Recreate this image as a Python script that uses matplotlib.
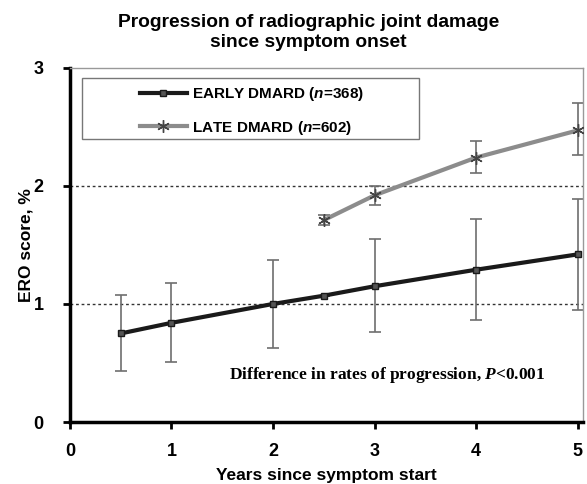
import matplotlib.pyplot as plt
from matplotlib.patches import Rectangle

# data
early_x = [0.5, 1, 2, 2.5, 3, 4, 5]
early_y = [0.75, 0.84, 1.00, 1.07, 1.15, 1.29, 1.42]
early_lo = [0.43, 0.51, 0.63, 1.07, 0.76, 0.86, 0.95]
early_hi = [1.08, 1.18, 1.37, 1.07, 1.55, 1.72, 1.89]

late_x = [2.5, 3, 4, 5]
late_y = [1.71, 1.92, 2.24, 2.47]
late_lo = [1.67, 1.84, 2.11, 2.26]
late_hi = [1.75, 2.00, 2.38, 2.70]

xticks = [0, 1, 2, 3, 4, 5]
yticks = [0, 1, 2, 3]

plt.rcParams['font.family'] = ['Liberation Sans', 'DejaVu Sans']
plt.rcParams['font.weight'] = 'bold'
# italic n in the legend is sans, italic P in the note is serif
plt.rcParams['mathtext.fontset'] = 'custom'
plt.rcParams['mathtext.it'] = 'Liberation Sans:italic:bold'
plt.rcParams['mathtext.sf'] = 'Liberation Serif:italic:bold'
plt.rcParams['mathtext.rm'] = 'Liberation Sans:bold'

fig = plt.figure(figsize=(5.87, 4.84), dpi=100)
ax = fig.add_axes([0.119, 0.128, 0.874, 0.732])

ax.axhline(1, color='#333333', ls=(0, (2, 2)), lw=1, zorder=1)
ax.axhline(2, color='#333333', ls=(0, (2, 2)), lw=1, zorder=1)

e_err = [[y - l for y, l in zip(early_y, early_lo)], [h - y for y, h in zip(early_y, early_hi)]]
l_err = [[y - l for y, l in zip(late_y, late_lo)], [h - y for y, h in zip(late_y, late_hi)]]

ax.errorbar(early_x, early_y, yerr=e_err, fmt='none', ecolor='#6e6e6e', elinewidth=1.2,
            capsize=4, capthick=1.2, zorder=2)
ax.errorbar(late_x, late_y, yerr=l_err, fmt='none', ecolor='#6e6e6e', elinewidth=1.2,
            capsize=4, capthick=1.2, zorder=2)

ax.plot(early_x, early_y, color='#1a1a1a', lw=3, marker='s', ms=4, mfc='#555555',
        mec='#1a1a1a', zorder=3, label='EARLY DMARD ($\\mathit{n}$=368)')
ax.plot(late_x, late_y, color='#8c8c8c', lw=3, marker=(6, 2, 0), ms=9, mec='#444444',
        mew=1, zorder=3, label='LATE DMARD ($\\mathit{n}$=602)')

ax.text(3.12, 0.40, 'Difference in rates of progression, $\\mathsf{P}$<0.001',
        family='Liberation Serif', fontsize=12.5, fontweight='bold', ha='center', va='center')

ax.set_xlim(0, 5.05)
ax.set_ylim(0, 3.0)
ax.set_xticks(xticks)
ax.set_yticks(yticks)
ax.tick_params(labelsize=13, width=2, length=5, direction='out')
ax.tick_params(axis='x', pad=10)
ax.tick_params(axis='y', pad=14)

for s in ['left', 'bottom']:
    ax.spines[s].set_linewidth(2.5)
    ax.spines[s].set_color('black')
for s in ['top', 'right']:
    ax.spines[s].set_linewidth(1)
    ax.spines[s].set_color('#999999')

ax.set_xlabel('Years since symptom start', fontsize=12.5, fontweight='bold', labelpad=6)
ax.set_ylabel('ERO score, %', fontsize=12.5, fontweight='bold')
ax.yaxis.set_label_coords(-0.07, 0.5)
fig.text(0.525, 0.972, 'Progression of radiographic joint damage\nsince symptom onset',
         fontsize=13.9, fontweight='bold', ha='center', va='top', linespacing=1.3)

# legend box is wider than its content in the reference
ax.add_patch(Rectangle((0.023, 0.799), 0.657, 0.173, transform=ax.transAxes,
                       fill=True, facecolor='white', edgecolor='#777777', lw=1, zorder=4))
leg = ax.legend(loc='center left', bbox_to_anchor=(0.136, 0.878), fontsize=11,
                frameon=False, handlelength=3.1, handletextpad=0.35, borderpad=0,
                borderaxespad=0, labelspacing=1.0)
leg.set_zorder(5)

fig.savefig('out.png', dpi=100)
